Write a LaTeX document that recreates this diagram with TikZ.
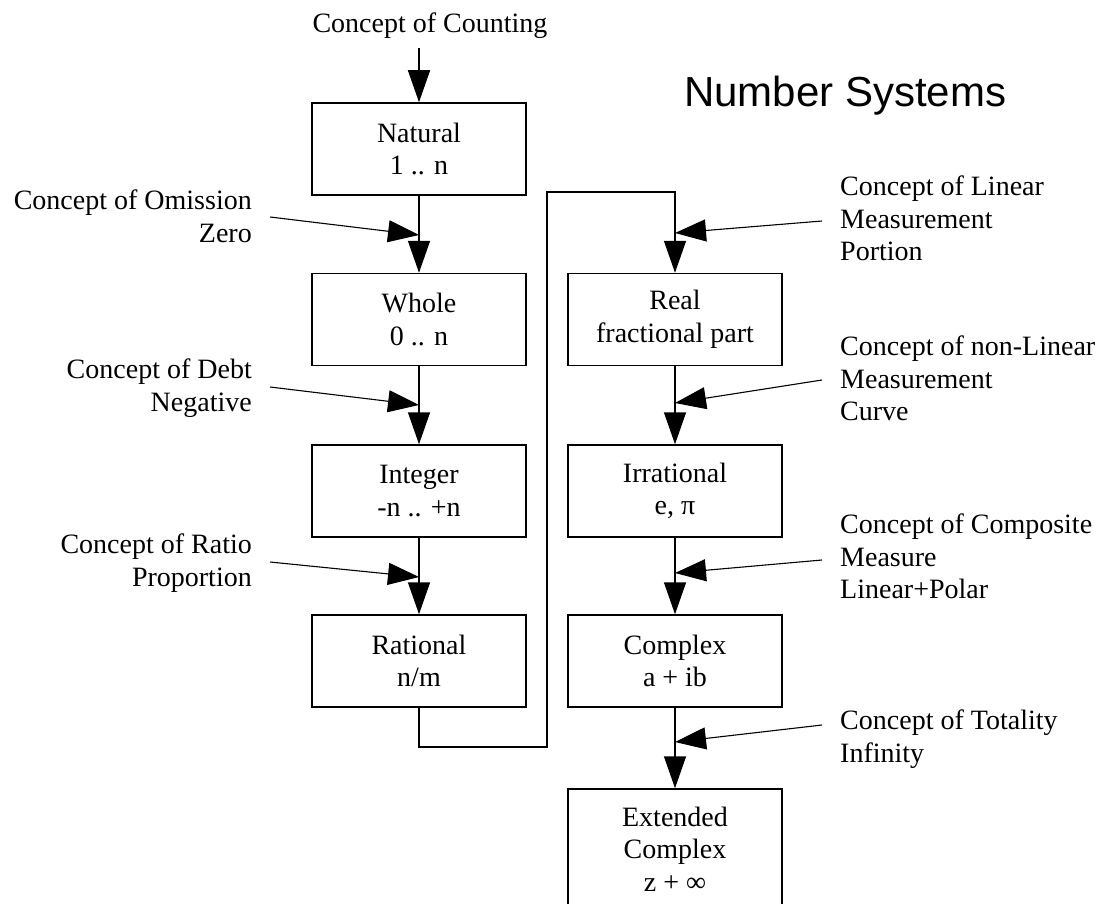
\documentclass[tikz,border=0pt]{standalone}
\usepackage{fontspec}
\setmainfont{Liberation Serif}
\newfontfamily\titlefont{Liberation Sans}
\usetikzlibrary{arrows.meta}
\begin{document}
\begin{tikzpicture}[x=1pt,y=-1pt,
  every node/.style={font=\fontsize{28}{32.5}\selectfont},
  numbox/.style={draw,line width=1.5pt,minimum width=214pt,minimum height=92pt,align=center,inner sep=0pt},
  flow/.style={line width=1.5pt,-{Triangle[length=32pt,width=22pt]}},
  feed/.style={line width=1.1pt,-{Triangle[length=31pt,width=22pt]}},
  leftlbl/.style={anchor=north east,align=right,inner sep=0pt},
  rightlbl/.style={anchor=north west,align=left,inner sep=0pt}]
\useasboundingbox (0,0) rectangle (1102,904);
\clip (0,0) rectangle (1102,904);
\fill[white] (0,0) rectangle (1102,904);

% title
\node[anchor=base west,inner sep=0pt,font=\titlefont\fontsize{42}{48}\selectfont] (title) at (684,107) {Number Systems};

% boxes
\node[numbox] (nat) at (419,149) {Natural\\1 .. n};
\node[numbox] (whole) at (419,319.5) {Whole\\0 .. n};
\node[numbox] (int) at (419,491) {Integer\\-n .. +n};
\node[numbox] (rat) at (419,661) {Rational\\n/m};
\node[numbox] (real) at (675,319.5) {Real\\fractional part};
\node[numbox] (irr) at (675,491) {Irrational\\e, π};
\node[numbox] (cpx) at (675,661) {Complex\\a + ib};
\node[numbox,minimum height=120pt] (ext) at (675,849) {Extended\\Complex\\z + ∞};

% labels
\node[anchor=base,inner sep=0pt] (lcount) at (430,33) {Concept of Counting};
\node[leftlbl] (lomit) at (252,190) {Concept of Omission\\Zero};
\node[leftlbl] (ldebt) at (252,359) {Concept of Debt\\Negative};
\node[leftlbl] (lratio) at (252,534) {Concept of Ratio\\Proportion};
\node[rightlbl] (llin) at (840,176) {Concept of Linear\\Measurement\\Portion};
\node[rightlbl] (lnon) at (840,336) {Concept of non-Linear\\Measurement\\Curve};
\node[rightlbl] (lcomp) at (840,514) {Concept of Composite\\Measure\\Linear+Polar};
\node[rightlbl] (ltot) at (840,710) {Concept of Totality\\Infinity};

% coordinates
\coordinate (cstart) at (419,48);
\coordinate (j1) at (419,235);
\coordinate (j2) at (419,405);
\coordinate (j3) at (419,577);
\coordinate (j4) at (675,233);
\coordinate (j5) at (675,403);
\coordinate (j6) at (675,573);
\coordinate (j7) at (675,742);
\coordinate (s1) at (270,217);
\coordinate (s2) at (270,387);
\coordinate (s3) at (270,562);
\coordinate (s4) at (822,221);
\coordinate (s5) at (822,380);
\coordinate (s6) at (822,560);
\coordinate (s7) at (822,725);
\coordinate (b1) at (547,747);
\coordinate (b2) at (547,192);

% main flow
\draw[flow] (cstart) -- (nat.north);
\draw[flow] (nat.south) -- (whole.north);
\draw[flow] (whole.south) -- (int.north);
\draw[flow] (int.south) -- (rat.north);
\draw[flow] (rat.south) |- (b1) -- (b2) -| (real.north);
\draw[flow] (real.south) -- (irr.north);
\draw[flow] (irr.south) -- (cpx.north);
\draw[flow] (cpx.south) -- (ext.north);

% feeds
\draw[feed] (s1) -- (j1);
\draw[feed] (s2) -- (j2);
\draw[feed] (s3) -- (j3);
\draw[feed] (s4) -- (j4);
\draw[feed] (s5) -- (j5);
\draw[feed] (s6) -- (j6);
\draw[feed] (s7) -- (j7);
\end{tikzpicture}
\end{document}
